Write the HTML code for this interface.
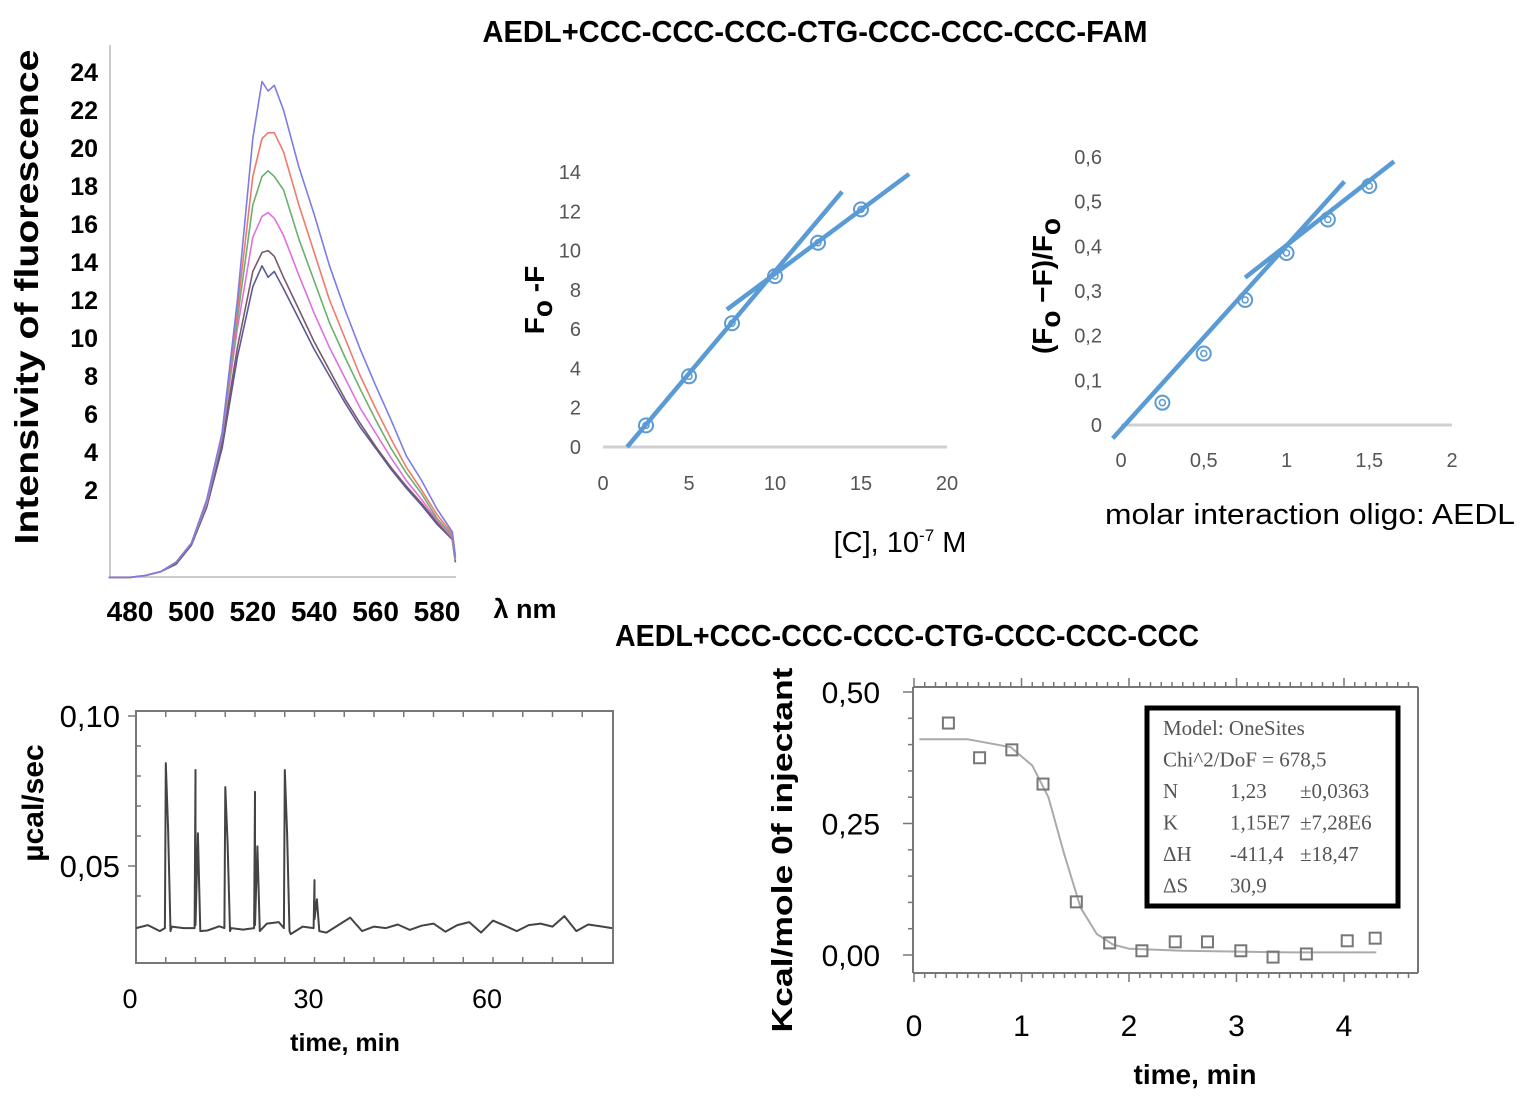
<!DOCTYPE html>
<html><head><meta charset="utf-8"><style>
html,body{margin:0;padding:0;background:#fff}
svg{display:block;font-family:"Liberation Sans",sans-serif}
</style></head><body>
<svg id="fig" width="1531" height="1110" viewBox="0 0 1531 1110" xmlns="http://www.w3.org/2000/svg">
<text x="815" y="42" text-anchor="middle" font-size="31" font-weight="bold" textLength="665" lengthAdjust="spacingAndGlyphs">AEDL+CCC-CCC-CCC-CTG-CCC-CCC-CCC-FAM</text>
<text x="907" y="646" text-anchor="middle" font-size="31" font-weight="bold" textLength="584" lengthAdjust="spacingAndGlyphs">AEDL+CCC-CCC-CCC-CTG-CCC-CCC-CCC</text>
<g id="p1"></g>
<g id="p2"></g>
<g id="p3"></g>
<g id="p4"></g>
<g id="p5"></g>
</svg>
<script>
// ---------- data ----------
const specWl = [473,480,485,490,495,500,505,510,515,520,523,525,527,530,535,540,545,550,555,560,565,570,575,580,585,586];
const specBlue    = [-2.6,-2.6,-2.5,-2.3,-1.8,-0.8,1.5,5.0,12.0,20.5,23.5,23.0,23.3,22.0,19.0,16.5,13.8,11.5,9.4,7.5,5.7,3.8,2.5,1.0,-0.2,-1.5];
const specRed     = [-2.6,-2.6,-2.5,-2.3,-1.8,-0.8,1.5,5.0,11.5,18.5,20.5,20.8,20.8,19.8,17.0,14.5,12.0,10.0,8.0,6.3,4.7,3.2,2.0,0.7,-0.3,-1.5];
const specGreen   = [-2.6,-2.6,-2.5,-2.3,-1.8,-0.8,1.4,4.9,11.0,17.0,18.5,18.8,18.5,17.8,15.2,13.0,10.8,9.0,7.3,5.7,4.2,2.9,1.8,0.5,-0.4,-1.6];
const specMagenta = [-2.6,-2.6,-2.5,-2.3,-1.8,-0.8,1.3,4.8,10.5,15.3,16.4,16.6,16.3,15.4,13.3,11.3,9.5,7.9,6.3,5.0,3.7,2.5,1.5,0.4,-0.5,-1.7];
const specGray    = [-2.6,-2.6,-2.5,-2.3,-1.9,-0.9,1.2,4.5,9.5,13.5,14.5,14.6,14.3,13.2,11.5,9.8,8.3,6.8,5.5,4.3,3.2,2.2,1.3,0.3,-0.6,-1.8];
const specSlate   = [-2.6,-2.6,-2.5,-2.3,-1.9,-0.9,1.1,4.2,9.0,12.7,13.8,13.2,13.5,12.6,11.0,9.4,8.0,6.6,5.3,4.2,3.1,2.1,1.2,0.2,-0.6,-1.8];
const specYTicks = [2,4,6,8,10,12,14,16,18,20,22,24];
const specXTicks = [480,500,520,540,560,580];

const foC = [2.5,5,7.5,10,12.5,15];
const foVal = [1.1,3.6,6.3,8.7,10.4,12.1];
const foLine1 = [[1.4,0],[13.9,13]];
const foLine2 = [[7.2,7.0],[17.8,13.9]];
const foXTicks = [0,5,10,15,20];
const foYTicks = [0,2,4,6,8,10,12,14];

const rMol = [0.25,0.5,0.75,1,1.25,1.5];
const rVal = [0.05,0.16,0.28,0.385,0.46,0.535];
const rLine1 = [[-0.05,-0.03],[1.35,0.545]];
const rLine2 = [[0.75,0.33],[1.65,0.59]];
const rXTicks = ["0","0,5","1","1,5","2"];
const rXVals = [0,0.5,1,1.5,2];
const rYTicks = ["0","0,1","0,2","0,3","0,4","0,5","0,6"];
const rYVals = [0,0.1,0.2,0.3,0.4,0.5,0.6];

const itcPeakT = [5,10,15,20,25,30];
const itcPeakH = [0.0843,0.082,0.0763,0.0747,0.082,0.0453];
const itcBase = 0.0293;
const itcNoise = [0,0.001,-0.001,0.0005,0,0.001,-0.0008,0.0006,0,-0.0005,0.001,0.0015,0.002,-0.002,0.0005,0.003,-0.0015,0.001,0.0035,-0.001,0.0005,0,0.0012,-0.0006,0.0008,0.0015,-0.0012,0.001,0.002,-0.0015,0.0025,0.0008,-0.001,0.001,0.0015,0.0005,0.004,-0.001,0.0012,0.0006,0];
const itcXTicks = [0,30,60];

const fitT = [0.32,0.61,0.91,1.20,1.51,1.82,2.12,2.43,2.73,3.04,3.34,3.65,4.03,4.29];
const fitV = [0.441,0.375,0.390,0.325,0.101,0.023,0.008,0.025,0.025,0.008,-0.004,0.002,0.027,0.032];
const curveT = [0.05,0.5,0.9,1.1,1.25,1.4,1.55,1.7,1.85,2.0,2.5,3.5,4.3];
const curveV = [0.41,0.41,0.395,0.36,0.30,0.19,0.09,0.04,0.02,0.012,0.008,0.005,0.005];
const fitXTicks = [0,1,2,3,4];
const fitYTicks = ["0,00","0,25","0,50"];
const fitYVals = [0,0.25,0.5];

// ---------- helpers ----------
const NS = "http://www.w3.org/2000/svg";
function mk(parent, tag, attrs, text){
  const e = document.createElementNS(NS, tag);
  for (const k in attrs) e.setAttribute(k, attrs[k]);
  if (text !== undefined) e.textContent = text;
  parent.appendChild(e);
  return e;
}
function poly(pts){ return pts.map(p=>p[0].toFixed(1)+","+p[1].toFixed(1)).join(" "); }

// ---------- panel 1: spectra ----------
(function(){
  const g = document.getElementById('p1');
  const sx = w => 130 + (w-480)*3.07;
  const sy = v => 528 - 19*v;
  let e;
  e = mk(g,'line',{x1:110,y1:45,x2:110,y2:577,stroke:'#bbb','stroke-width':1.5});
   
  e = mk(g,'line',{x1:110,y1:577,x2:456,y2:577,stroke:'#bbb','stroke-width':1.5});
   
  specYTicks.forEach(t=>{
    const l = mk(g,'text',{x:98,y:sy(t)+9,'text-anchor':'end','font-size':25,'font-weight':'bold'},String(t));
     
  });
  specXTicks.forEach(t=>{
    const l = mk(g,'text',{x:sx(t),y:621,'text-anchor':'middle','font-size':28,'font-weight':'bold'},String(t));
     
  });
  e = mk(g,'text',{x:525,y:618,'text-anchor':'middle','font-size':27,'font-weight':'bold'},'λ nm');
   
  e = mk(g,'text',{x:0,y:0,'text-anchor':'middle','font-size':33,'font-weight':'bold',transform:'translate(38,297) rotate(-90)',textLength:495,lengthAdjust:'spacingAndGlyphs'},'Intensivity of fluorescence');
   
  const series = [[specSlate,'#5a5a9a'],[specGray,'#7a5a6a'],[specMagenta,'#e070e0'],[specGreen,'#6cb06c'],[specRed,'#f07a6a'],[specBlue,'#7c7ce6']];
  series.forEach((s,i)=>{
    const p = mk(g,'polyline',{points:poly(specWl.map((w,j)=>[sx(w),sy(s[0][j])])),fill:'none',stroke:s[1],'stroke-width':1.6,'stroke-linejoin':'round'});
     
  });
})();

// ---------- panel 2: Fo-F ----------
(function(){
  const g = document.getElementById('p2');
  const sx = c => 603 + c*17.2;
  const sy = v => 447 - v*19.64;
  let e;
  e = mk(g,'line',{x1:603,y1:447,x2:947,y2:447,stroke:'#d0d0d0','stroke-width':3});
   
  foXTicks.forEach(t=>{
    const l = mk(g,'text',{x:sx(t),y:490,'text-anchor':'middle','font-size':20,fill:'#555'},String(t));
     
  });
  foYTicks.forEach(t=>{
    const l = mk(g,'text',{x:581,y:sy(t)+7,'text-anchor':'end','font-size':20,fill:'#555'},String(t));
     
  });
  [foLine1,foLine2].forEach((L,i)=>{
    const l = mk(g,'line',{x1:sx(L[0][0]),y1:sy(L[0][1]),x2:sx(L[1][0]),y2:sy(L[1][1]),stroke:'#5b9bd5','stroke-width':4.5});
     
  });
  foC.forEach((c,i)=>{
    const o = mk(g,'circle',{cx:sx(c),cy:sy(foVal[i]),r:7,fill:'none',stroke:'#5b9bd5','stroke-width':2});
     
    const n = mk(g,'circle',{cx:sx(c),cy:sy(foVal[i]),r:3,fill:'none',stroke:'#5b9bd5','stroke-width':1.5});
     
  });
  e = mk(g,'text',{x:0,y:0,'text-anchor':'middle','font-size':28,'font-weight':'bold',transform:'translate(544,300) rotate(-90)'});
   
  e.innerHTML = 'F<tspan dy="8">o</tspan><tspan dy="-8"> -F</tspan>';
  e = mk(g,'text',{x:900,y:552,'text-anchor':'middle','font-size':29});
   
  e.innerHTML = '[C], 10<tspan dy="-11" font-size="17">-7</tspan><tspan dy="11"> M</tspan>';
})();

// ---------- panel 3: ratio ----------
(function(){
  const g = document.getElementById('p3');
  const sx = c => 1121 + c*165.5;
  const sy = v => 425 - v*446.7;
  let e;
  e = mk(g,'line',{x1:1121,y1:425,x2:1452,y2:425,stroke:'#d0d0d0','stroke-width':3});
   
  rXVals.forEach((t,i)=>{
    const l = mk(g,'text',{x:sx(t),y:467,'text-anchor':'middle','font-size':20,fill:'#555'},rXTicks[i]);
     
  });
  rYVals.forEach((t,i)=>{
    const l = mk(g,'text',{x:1102,y:sy(t)+7,'text-anchor':'end','font-size':20,fill:'#555'},rYTicks[i]);
     
  });
  [rLine1,rLine2].forEach((L,i)=>{
    const l = mk(g,'line',{x1:sx(L[0][0]),y1:sy(L[0][1]),x2:sx(L[1][0]),y2:sy(L[1][1]),stroke:'#5b9bd5','stroke-width':4.5});
     
  });
  rMol.forEach((c,i)=>{
    const o = mk(g,'circle',{cx:sx(c),cy:sy(rVal[i]),r:7,fill:'none',stroke:'#5b9bd5','stroke-width':2});
     
    const n = mk(g,'circle',{cx:sx(c),cy:sy(rVal[i]),r:3,fill:'none',stroke:'#5b9bd5','stroke-width':1.5});
     
  });
  e = mk(g,'text',{x:0,y:0,'text-anchor':'middle','font-size':28,'font-weight':'bold',transform:'translate(1052,286) rotate(-90)'});
   
  e.innerHTML = '(F<tspan dy="8">o</tspan><tspan dy="-8"> −F)/F</tspan><tspan dy="8">o</tspan>';
  e = mk(g,'text',{x:1310,y:524,'text-anchor':'middle','font-size':29,textLength:410,lengthAdjust:'spacingAndGlyphs'},'molar interaction oligo: AEDL');
   
})();

// ---------- panel 4: ITC raw ----------
(function(){
  const g = document.getElementById('p4');
  const sx = t => 136 + t*5.95;
  const sy = v => 716 + (0.10-v)*3000;
  let e;
  e = mk(g,'rect',{x:136,y:711,width:477,height:252,fill:'none',stroke:'#777','stroke-width':2});
   
  for(let t=5;t<80;t+=5){
    mk(g,'line',{x1:sx(t),y1:711,x2:sx(t),y2:717,stroke:'#777','stroke-width':1.5});
    mk(g,'line',{x1:sx(t),y1:963,x2:sx(t),y2:957,stroke:'#777','stroke-width':1.5});
  }
  [0.04,0.06,0.07,0.08,0.09].forEach(v=>mk(g,'line',{x1:136,y1:sy(v),x2:141,y2:sy(v),stroke:'#777','stroke-width':1.5}));
  [0.05,0.10].forEach(v=>mk(g,'line',{x1:128,y1:sy(v),x2:136,y2:sy(v),stroke:'#777','stroke-width':1.5}));
  [['0,10',0.10],['0,05',0.05]].forEach(a=>{
    const l = mk(g,'text',{x:120,y:sy(a[1])+11,'text-anchor':'end','font-size':31},a[0]);
     
  });
  itcXTicks.forEach(t=>{
    const l = mk(g,'text',{x:sx(t)-6,y:1008,'text-anchor':'middle','font-size':27},String(t));
     
  });
  e = mk(g,'text',{x:345,y:1051,'text-anchor':'middle','font-size':25,'font-weight':'bold'},'time, min');
   
  e = mk(g,'text',{x:0,y:0,'text-anchor':'middle','font-size':30,'font-weight':'bold',transform:'translate(43,803) rotate(-90)'},'µcal/sec');
   
  const pts = [];
  for(let i=0;i<itcNoise.length;i++){
    const t0 = i*2;
    pts.push([t0, itcBase+itcNoise[i]]);
    itcPeakT.forEach((pt,k)=>{
      if(pt>t0 && pt<=t0+2){
        pts.push([pt-0.15,itcBase]);
        pts.push([pt,itcPeakH[k]]);
        pts.push([pt+0.4,itcBase+(itcPeakH[k]-itcBase)*0.6]);
        pts.push([pt+0.8,itcBase-0.001]);
      }
    });
  }
  pts.sort((a,b)=>a[0]-b[0]);
  const tr = mk(g,'polyline',{points:poly(pts.filter(p=>p[0]<=80).map(p=>[sx(p[0]),sy(p[1])])),fill:'none',stroke:'#444','stroke-width':2,'stroke-linejoin':'round'});
   
})();

// ---------- panel 5: ITC fit ----------
(function(){
  const g = document.getElementById('p5');
  const sx = t => 914 + t*107.5;
  const sy = v => 955 - v*526;
  let e;
  e = mk(g,'line',{x1:913,y1:687,x2:1418,y2:687,stroke:'#777','stroke-width':2});
   
  e = mk(g,'line',{x1:913,y1:973,x2:1418,y2:973,stroke:'#777','stroke-width':2});
   
  e = mk(g,'line',{x1:913,y1:687,x2:913,y2:973,stroke:'#777','stroke-width':2});
   
  e = mk(g,'line',{x1:1418,y1:687,x2:1418,y2:973,stroke:'#777','stroke-width':2});
   
  for(let k=0;k<=46;k++){
    const t = k*0.1, x = sx(t); if(x>1418) break;
    const len = (k%10===0)?9:5;
    mk(g,'line',{x1:x,y1:687,x2:x,y2:687-len,stroke:'#777','stroke-width':1.5});
    mk(g,'line',{x1:x,y1:973,x2:x,y2:973+len,stroke:'#777','stroke-width':1.5});
  }
  for(let k=0;k<=10;k++){
    const v = k*0.05;
    mk(g,'line',{x1:913,y1:sy(v),x2:(k%5===0)?903:908,y2:sy(v),stroke:'#777','stroke-width':1.5});
  }
  fitYVals.forEach((v,i)=>{
    const l = mk(g,'text',{x:880,y:sy(v)+11,'text-anchor':'end','font-size':30},fitYTicks[i]);
     
  });
  fitXTicks.forEach(t=>{
    const l = mk(g,'text',{x:sx(t),y:1036,'text-anchor':'middle','font-size':30},String(t));
     
  });
  e = mk(g,'text',{x:1195,y:1084,'text-anchor':'middle','font-size':28,'font-weight':'bold'},'time, min');
   
  e = mk(g,'text',{x:0,y:0,'text-anchor':'middle','font-size':29,'font-weight':'bold',transform:'translate(792,850) rotate(-90)',textLength:365,lengthAdjust:'spacingAndGlyphs'},'Kcal/mole 0f injectant');
   
  const c = mk(g,'polyline',{points:poly(curveT.map((t,i)=>[sx(t),sy(curveV[i])])),fill:'none',stroke:'#aaa','stroke-width':2,'stroke-linejoin':'round'});
   
  fitT.forEach((t,i)=>{
    const r = mk(g,'rect',{x:sx(t)-5.5,y:sy(fitV[i])-5.5,width:11,height:11,fill:'none',stroke:'#777','stroke-width':2});
     
  });
  e = mk(g,'rect',{x:1147,y:708,width:251,height:198,fill:'#fff',stroke:'#000','stroke-width':5});
   
  const rows = [['Model: OneSites','',''],['Chi^2/DoF = 678,5','',''],['N','1,23','±0,0363'],['K','1,15E7','±7,28E6'],['ΔH','-411,4','±18,47'],['ΔS','30,9','']];
  rows.forEach((r,i)=>{
    const y = 735 + i*31.5;
    const a = {y:y,'font-size':21,fill:'#555','font-family':'"Liberation Serif",serif'};
    let t = mk(g,'text',Object.assign({x:1163},a),r[0]);
     
    if(r[1]){ t = mk(g,'text',Object.assign({x:1230},a),r[1]);
        }
    if(r[2]){ t = mk(g,'text',Object.assign({x:1300},a),r[2]);
        }
  });
})();
</script>
</body></html>
